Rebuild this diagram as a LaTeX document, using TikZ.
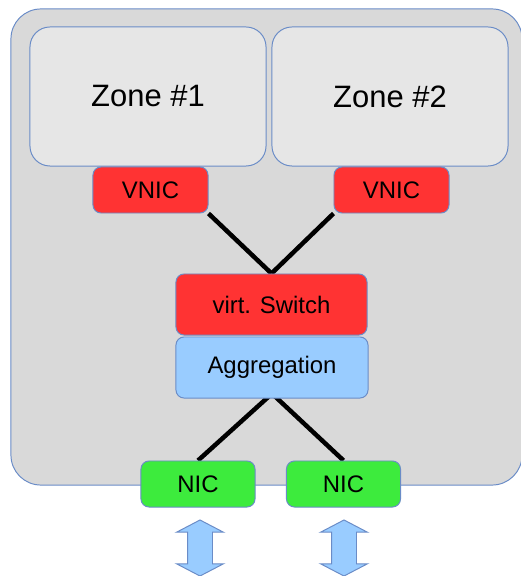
\documentclass[tikz,border=0pt]{standalone}
\usepackage{fontspec}
\setmainfont{Liberation Sans}
\usetikzlibrary{shapes.arrows}
\definecolor{hostgray}{HTML}{D9D9D9}
\definecolor{zonegray}{HTML}{E6E6E6}
\definecolor{boxline}{HTML}{6A8CC7}
\definecolor{vnicred}{HTML}{FF3333}
\definecolor{aggblue}{HTML}{99CCFF}
\definecolor{nicgreen}{HTML}{3DEB3D}
\pgfdeclarelayer{frame}
\pgfdeclarelayer{wires}
\pgfsetlayers{frame,wires,main}
\tikzstyle{box} = [draw=boxline, line width=0.7pt, rounded corners=0.2cm,
inner sep=0pt, font=\fontsize{17}{17}\selectfont]
\tikzstyle{host} = [box, fill=hostgray, rounded corners=0.75cm,
minimum width=12.775cm, minimum height=11.9cm]
\tikzstyle{zone} = [box, fill=zonegray, rounded corners=0.5cm,
minimum width=5.9cm, minimum height=3.475cm, font=\fontsize{22}{22}\selectfont]
\tikzstyle{vnic} = [box, fill=vnicred, minimum width=2.875cm, minimum height=1.15cm]
\tikzstyle{nic} = [box, fill=nicgreen, minimum width=2.85cm, minimum height=1.15cm]
\tikzstyle{wide} = [box, minimum width=4.8cm, minimum height=1.525cm]
\tikzstyle{wire} = [line width=3.2pt, black]
\tikzstyle{updown} = [double arrow, rotate=90, draw=boxline, fill=aggblue,
line width=0.7pt, inner xsep=0pt, inner ysep=0.3cm, minimum height=1.4cm,
double arrow head extend=0.275cm, double arrow tip angle=125]
\newcommand{\wires}[2]{ %
  % join node #1 to every node in #2
  \foreach \y in {#2} { %
    \draw[wire] (#1) -- (\y) ;%
  } ;
}

\begin{document}
\begin{tikzpicture}[x=0.025cm, y=-0.025cm]
    \useasboundingbox (0,0) rectangle (520,576);
    \begin{pgfonlayer}{frame}
      \node[host](host) at (266.5,247) {};
    \end{pgfonlayer}
    \node[zone](zone1) at (148,96.5) {Zone \#1};
    \node[zone](zone2) at (390,96.5) {Zone \#2};
    \node[vnic](vnic1) at (150.5,190) {VNIC};
    \node[vnic](vnic2) at (391.5,190) {VNIC};
    \node[wide, fill=vnicred, minimum width=4.775cm](switch) at (271.5,304.5) {virt. Switch};
    \node[wide, fill=aggblue](agg) at (272,367.5) {Aggregation};
    \node[nic](nic1) at (198,484) {NIC};
    \node[nic](nic2) at (343.5,484) {NIC};
    \begin{pgfonlayer}{wires}
      \wires{switch.north}{vnic1.south east,vnic2.south west}
      \wires{[yshift=3.5pt]agg.south}{nic1.north,nic2.north}
    \end{pgfonlayer}
    \node[updown](up1) at (200,548) {};
    \node[updown](up2) at (344,548) {};
\end{tikzpicture}
\end{document}
